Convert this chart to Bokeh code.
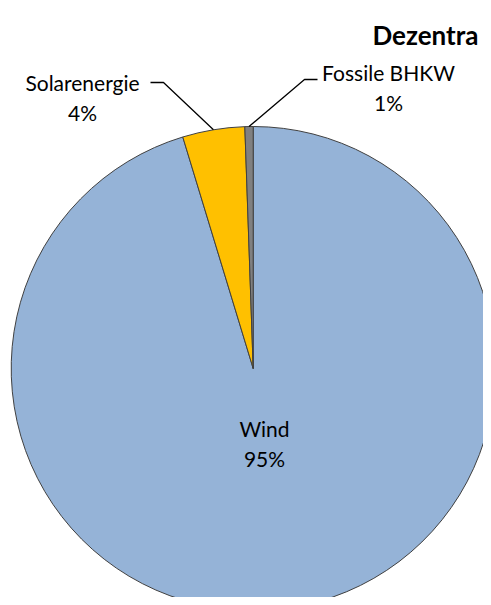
import math
from bokeh.plotting import figure
from bokeh.models import Range1d, ColumnDataSource
from bokeh.core.properties import value
from bokeh.embed import file_html
from bokeh.resources import INLINE

# ---- data ----
categories = ["Wind", "Solarenergie", "Fossile BHKW"]
shares = [95.3, 4.15, 0.55]
colors = ["#95B3D7", "#FFC000", "#808080"]
title_text = "Dezentra"

# ---- layout ----
W, H = 483, 597
CX, CY, R = 252.7, 229.0, 242.0
FONT = "Lato"

p = figure(width=W, height=H, output_backend="svg", toolbar_location=None,
           x_range=Range1d(0, W), y_range=Range1d(0, H),
           x_axis_type=None, y_axis_type=None, min_border=0)
p.grid.visible = False
p.outline_line_color = None
p.background_fill_color = "white"
p.border_fill_color = "white"

total = sum(shares)
starts, ends, mids = [], [], []
cum = 0.0
for s in shares:
    a0 = math.pi / 2 - 2 * math.pi * cum / total
    cum += s
    a1 = math.pi / 2 - 2 * math.pi * cum / total
    starts.append(a0)
    ends.append(a1)
    mids.append((a0 + a1) / 2)

src = ColumnDataSource(dict(start=starts, end=ends, color=colors, cat=categories))
p.wedge(x=CX, y=CY, radius=R, start_angle="start", end_angle="end", direction="clock",
        fill_color="color", line_color="#404040", line_width=1, source=src)

pct = [f"{round(s / total * 100)}%" for s in shares]

# label anchor positions (centre x, baseline of first line), in plot pixels
label_pos = {
    "Wind": (264, 169),
    "Solarenergie": (82, 515),
    "Fossile BHKW": (388, 525),
}
LINE = 30
for cat, pc in zip(categories, pct):
    lx, ly = label_pos[cat]
    p.text(x=[lx, lx], y=[ly, ly - LINE], text=[cat, pc], text_align="center",
           text_baseline="alphabetic", text_font=value(FONT), text_font_size="21px",
           text_color="#000000")

# leader lines: elbow near label, end at the wedge's outer edge
elbows = {
    "Solarenergie": ((150, 515), (163, 515)),
    "Fossile BHKW": ((317, 518), (304, 518)),
}
for i, cat in enumerate(categories):
    if cat not in elbows:
        continue
    (x0, y0), (x1, y1) = elbows[cat]
    ex = CX + R * math.cos(mids[i])
    ey = CY + R * math.sin(mids[i])
    p.line(x=[x0, x1, ex], y=[y0, y1, ey], line_color="#000000", line_width=1.3)

# title (only the visible part of the reference's title)
p.text(x=[372], y=[563], text=[title_text], text_align="left", text_baseline="alphabetic",
       text_font=value(FONT), text_font_size="26px", text_font_style="bold",
       text_color="#000000")

open("out.html", "w").write(file_html(p, INLINE))
